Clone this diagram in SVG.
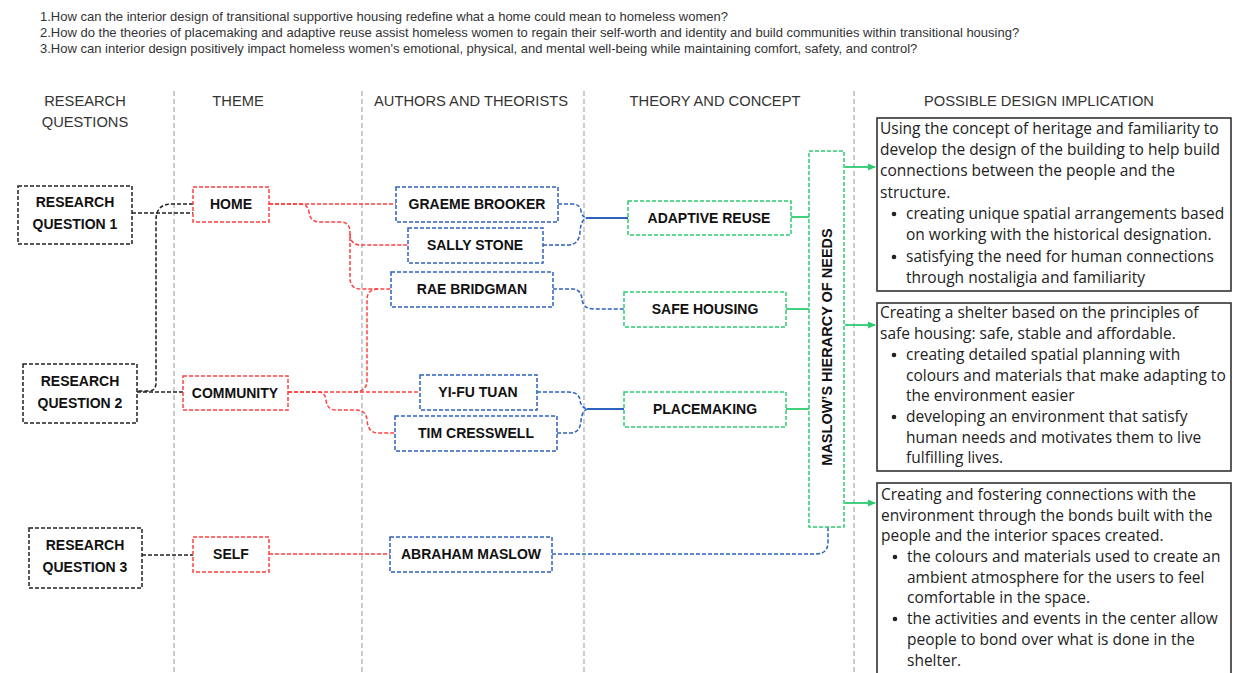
<svg xmlns="http://www.w3.org/2000/svg" width="1241" height="673" viewBox="0 0 1241 673">
<style>
.bg{fill:#fff}
.div{stroke:#aaa;stroke-width:1.2;stroke-dasharray:5 3;fill:none}
.q{font-family:"Liberation Sans",Arial,sans-serif;font-size:13px;fill:#333}
.hd{font-family:"Liberation Sans",Arial,sans-serif;font-size:14.7px;fill:#333;text-anchor:middle}
.nb{fill:#fff;stroke-width:1.5;stroke-dasharray:4 2}
.k{stroke:#222}
.r{stroke:#ff4040}
.b{stroke:#2e62c0}
.g{stroke:#2ecc71}
.lbl{font-family:"Liberation Sans",Arial,sans-serif;font-size:14px;font-weight:bold;fill:#111;text-anchor:middle}
.c{fill:none;stroke-width:1.5;stroke-dasharray:4 2}
.s{fill:none;stroke-width:1.8}
.tb{fill:#fff;stroke:#333;stroke-width:1.6}
.t{font-family:"Open Sans","Noto Sans",sans-serif;font-size:15.5px;fill:#222}
</style>
<defs>
<marker id="ah" markerWidth="8" markerHeight="8" refX="7" refY="4" orient="auto" markerUnits="userSpaceOnUse">
<path d="M0,0.5 L8,4 L0,7.5 Z" fill="#2ecc71"/>
</marker>
</defs>
<rect class="bg" x="0" y="0" width="1241" height="673"/>

<g id="questions">
<text class="q" x="40" y="21">1.How can the interior design of transitional supportive housing redefine what a home could mean to homeless women?</text>
<text class="q" x="40" y="37">2.How do the theories of placemaking and adaptive reuse assist homeless women to regain their self-worth and identity and build communities within transitional housing?</text>
<text class="q" x="40" y="53">3.How can interior design positively impact homeless women's emotional, physical, and mental well-being while maintaining comfort, safety, and control?</text>
</g>

<g id="headers">
<text class="hd" x="85" y="106">RESEARCH</text>
<text class="hd" x="85" y="127">QUESTIONS</text>
<text class="hd" x="238" y="106">THEME</text>
<text class="hd" x="471" y="106">AUTHORS AND THEORISTS</text>
<text class="hd" x="715" y="106">THEORY AND CONCEPT</text>
<text class="hd" x="1039" y="106">POSSIBLE DESIGN IMPLICATION</text>
</g>

<g id="dividers">
<line class="div" x1="174" y1="91" x2="174" y2="673"/>
<line class="div" x1="362" y1="91" x2="362" y2="673"/>
<line class="div" x1="584" y1="91" x2="584" y2="673"/>
<line class="div" x1="854" y1="91" x2="854" y2="673"/>
</g>

<g id="connectors">
<path class="c k" d="M132,213 H193"/>
<path class="c k" d="M193,204 H172 Q156,204 156,220 V383 Q156,391 148,391 H137"/>
<path class="c k" d="M137,392 H183"/>
<path class="c k" d="M142,555 H193"/>
<path class="c r" d="M269,204 H396"/>
<path class="c r" d="M269,204 H300 Q308,204 309,212 Q310,222 320,222 H340 Q350,222 350,232 V278 Q350,289 361,289 H391"/>
<path class="c r" d="M350,234 Q350,245 361,245 H408"/>
<path class="c r" d="M288,392 H420"/>
<path class="c r" d="M354,392 Q367,392 367,380 V300 Q367,289 378,289"/>
<path class="c r" d="M288,392 H318 Q325,392 326,400 Q327,410 336,410 H356 Q366,410 367,420 Q368,433 378,433 H395"/>
<path class="c r" d="M269,554 H390"/>
<path class="c b" d="M558,204 H572 Q580,204 581,211 Q582,218 588,218"/>
<path class="c b" d="M543,245 H568 Q579,245 580,232 Q581,218 588,218"/>
<path class="s b" d="M586,218 H628"/>
<path class="c b" d="M553,289 H572 Q581,289 582,299 Q583,309 594,309 H624"/>
<path class="c b" d="M537,392 H568 Q579,392 580,400 Q581,409 589,409"/>
<path class="c b" d="M557,433 H570 Q580,433 581,421 Q582,409 589,409"/>
<path class="s b" d="M587,409 H624"/>
<path class="c b" d="M552,554 H816 Q828,554 828,542 V527"/>
<path class="s g" d="M791,217 H815"/>
<path class="s g" d="M786,309 H809"/>
<path class="s g" d="M786,409 H815"/>
<path class="s g" d="M845,167 H875" marker-end="url(#ah)"/>
<path class="s g" d="M845,325 H875" marker-end="url(#ah)"/>
<path class="s g" d="M845,503 H875" marker-end="url(#ah)"/>
</g>

<g id="rq1"><rect class="nb k" x="18" y="186" width="114" height="58"/><text class="lbl" x="75" y="207">RESEARCH</text><text class="lbl" x="75" y="229">QUESTION 1</text></g>
<g id="rq2"><rect class="nb k" x="23" y="364" width="114" height="59"/><text class="lbl" x="80" y="386">RESEARCH</text><text class="lbl" x="80" y="408">QUESTION 2</text></g>
<g id="rq3"><rect class="nb k" x="29" y="528" width="113" height="60"/><text class="lbl" x="85" y="550">RESEARCH</text><text class="lbl" x="85" y="572">QUESTION 3</text></g>

<g id="home"><rect class="nb r" x="193" y="187" width="76" height="35"/><text class="lbl" x="231" y="209">HOME</text></g>
<g id="community"><rect class="nb r" x="183" y="376" width="105" height="34"/><text class="lbl" x="235" y="398">COMMUNITY</text></g>
<g id="self"><rect class="nb r" x="193" y="537" width="76" height="35"/><text class="lbl" x="231" y="559">SELF</text></g>

<g id="brooker"><rect class="nb b" x="396" y="187" width="162" height="35"/><text class="lbl" x="477" y="209">GRAEME BROOKER</text></g>
<g id="stone"><rect class="nb b" x="408" y="228" width="135" height="35"/><text class="lbl" x="475" y="250">SALLY STONE</text></g>
<g id="bridgman"><rect class="nb b" x="391" y="272" width="162" height="35"/><text class="lbl" x="472" y="294">RAE BRIDGMAN</text></g>
<g id="tuan"><rect class="nb b" x="420" y="375" width="117" height="35"/><text class="lbl" x="478" y="397">YI-FU TUAN</text></g>
<g id="cresswell"><rect class="nb b" x="395" y="416" width="162" height="35"/><text class="lbl" x="476" y="438">TIM CRESSWELL</text></g>
<g id="maslow"><rect class="nb b" x="390" y="537" width="162" height="35"/><text class="lbl" x="471" y="559">ABRAHAM MASLOW</text></g>

<g id="adaptive"><rect class="nb g" x="628" y="201" width="163" height="34"/><text class="lbl" x="709" y="223">ADAPTIVE REUSE</text></g>
<g id="safehousing"><rect class="nb g" x="624" y="292" width="162" height="35"/><text class="lbl" x="705" y="314">SAFE HOUSING</text></g>
<g id="placemaking"><rect class="nb g" x="624" y="392" width="162" height="35"/><text class="lbl" x="705" y="414">PLACEMAKING</text></g>

<g id="hierarchy"><rect class="nb g" x="809" y="151" width="35" height="376"/><text class="lbl" transform="translate(832,347) rotate(-90)" x="0" y="0" style="font-size:14.5px">MASLOW’S HIERARCY OF NEEDS</text></g>

<g id="impl1">
<rect class="tb" x="877" y="118" width="354" height="173"/>
<text class="t" x="880" y="134">Using the concept of heritage and familiarity to</text>
<text class="t" x="880" y="155">develop the design of the building to help build</text>
<text class="t" x="880" y="176">connections between the people and the</text>
<text class="t" x="880" y="198">structure.</text>
<circle cx="894" cy="214" r="2.3" fill="#222"/>
<text class="t" x="906" y="219">creating unique spatial arrangements based</text>
<text class="t" x="906" y="240">on working with the historical designation.</text>
<circle cx="894" cy="257" r="2.3" fill="#222"/>
<text class="t" x="906" y="262">satisfying the need for human connections</text>
<text class="t" x="906" y="283">through nostaligia and familiarity</text>
</g>

<g id="impl2">
<rect class="tb" x="877" y="303" width="354" height="168"/>
<text class="t" x="880" y="318">Creating a shelter based on the principles of</text>
<text class="t" x="880" y="339">safe housing: safe, stable and affordable.</text>
<circle cx="894" cy="355" r="2.3" fill="#222"/>
<text class="t" x="906" y="360">creating detailed spatial planning with</text>
<text class="t" x="906" y="381">colours and materials that make adapting to</text>
<text class="t" x="906" y="401">the environment easier</text>
<circle cx="894" cy="417" r="2.3" fill="#222"/>
<text class="t" x="906" y="422">developing an environment that satisfy</text>
<text class="t" x="906" y="443">human needs and motivates them to live</text>
<text class="t" x="906" y="463">fulfilling lives.</text>
</g>

<g id="impl3">
<rect class="tb" x="877" y="483" width="354" height="200"/>
<text class="t" x="881" y="500">Creating and fostering connections with the</text>
<text class="t" x="881" y="521">environment through the bonds built with the</text>
<text class="t" x="881" y="541">people and the interior spaces created.</text>
<circle cx="895" cy="557" r="2.3" fill="#222"/>
<text class="t" x="907" y="562">the colours and materials used to create an</text>
<text class="t" x="907" y="583">ambient atmosphere for the users to feel</text>
<text class="t" x="907" y="603">comfortable in the space.</text>
<circle cx="895" cy="619" r="2.3" fill="#222"/>
<text class="t" x="907" y="624">the activities and events in the center allow</text>
<text class="t" x="907" y="645">people to bond over what is done in the</text>
<text class="t" x="907" y="666">shelter.</text>
</g>
</svg>
